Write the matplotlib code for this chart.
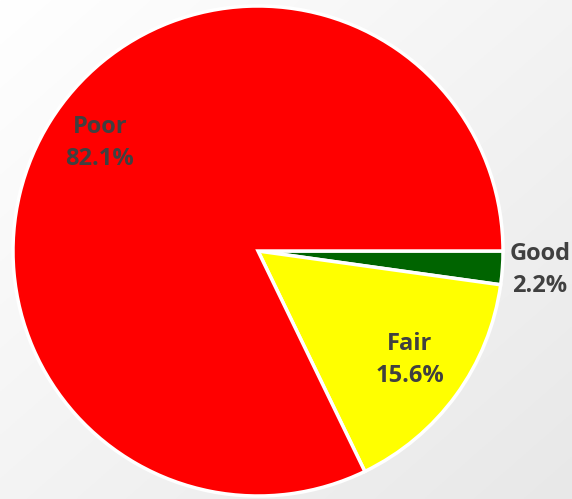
import numpy as np
import matplotlib.pyplot as plt

# condition breakdown, clockwise from 3 o'clock
labels = ["Good", "Fair", "Poor"]
shares = [2.2, 15.6, 82.1]
colors = ["#006400", "#FFFF00", "#FF0000"]

# where each label sits (pixel coords, y from top)
label_pos = [(540, 270), (410, 360), (100, 143)]

fig = plt.figure(figsize=(5.72, 4.99), dpi=100)

# soft grey gradient behind everything, white top-left to light grey bottom-right
bg = fig.add_axes([0, 0, 1, 1], zorder=0)
gx, gy = np.meshgrid(np.linspace(0, 1, 300), np.linspace(0, 1, 300))
shade = 1 - 0.09 * np.clip((gx + gy) / 2, 0, 1)
bg.imshow(np.dstack([shade] * 3), extent=[0, 1, 0, 1], origin="upper", aspect="auto")
bg.set_axis_off()

ax = fig.add_axes([0, 0, 1, 1], zorder=1)
ax.patch.set_visible(False)

ax.pie(shares, colors=colors, startangle=0, counterclock=False,
       center=(258, 499 - 251), radius=245, frame=True,
       wedgeprops=dict(edgecolor="white", linewidth=2.5))
ax.set_xlim(0, 572)
ax.set_ylim(0, 499)
ax.set_axis_off()

for name, val, (px, py) in zip(labels, shares, label_pos):
    ax.text(px, 499 - py, f"{name}\n{val}%", ha="center", va="center",
            fontsize=17, fontweight="bold", color="#404040",
            family="Open Sans", linespacing=1.45)

fig.savefig("out.png", dpi=100)
